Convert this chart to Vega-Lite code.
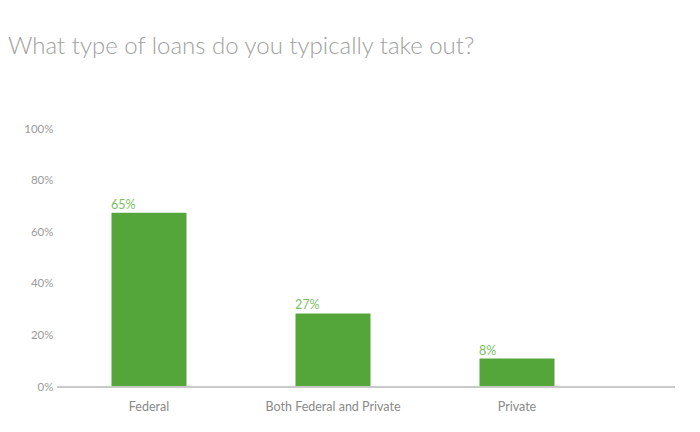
{
  "$schema": "https://vega.github.io/schema/vega-lite/v6.json",
  "autosize": "none",
  "width": 618,
  "height": 258,
  "padding": {"left": 57, "top": 129, "right": 25, "bottom": 45},
  "background": "white",
  "title": {
    "text": "What type of loans do you typically take out?",
    "anchor": "start",
    "frame": "group",
    "dx": -49,
    "offset": 64,
    "font": "Lato",
    "fontSize": 24,
    "fontWeight": 300,
    "color": "#a0a0a0"
  },
  "data": {
    "values": [
      {"loan": "Federal", "share": 67.5, "label": "65%"},
      {"loan": "Both Federal and Private", "share": 28.5, "label": "27%"},
      {"loan": "Private", "share": 11, "label": "8%"}
    ]
  },
  "encoding": {
    "x": {
      "field": "loan",
      "type": "nominal",
      "sort": null,
      "scale": {"range": [0, 552], "paddingInner": 0, "paddingOuter": 0},
      "axis": {
        "title": null,
        "domain": false,
        "ticks": false,
        "labelAngle": 0,
        "labelPadding": 13,
        "labelFont": "Lato",
        "labelFontSize": 12.5,
        "labelColor": "#8a8a8a"
      }
    },
    "y": {
      "field": "share",
      "type": "quantitative",
      "scale": {"domain": [0, 100], "nice": false},
      "axis": {
        "title": null,
        "grid": false,
        "domain": false,
        "ticks": false,
        "values": [0, 20, 40, 60, 80, 100],
        "labelExpr": "datum.value + '%'",
        "labelPadding": 4,
        "labelFont": "Lato",
        "labelFontSize": 11.5,
        "labelColor": "#9a9a9a"
      }
    }
  },
  "layer": [
    {
      "mark": {"type": "bar", "width": 75, "color": "#55a63a"}
    },
    {
      "mark": {"type": "text", "align": "left", "baseline": "bottom", "dx": -38, "dy": -1, "font": "Lato", "fontSize": 12.5, "color": "#78bf62"},
      "encoding": {"text": {"field": "label"}}
    },
    {
      "mark": {"type": "rule", "color": "#c8c8c8", "strokeWidth": 1.5},
      "encoding": {"y": {"datum": 0}, "x": null}
    }
  ],
  "config": {"view": {"stroke": null}}
}
